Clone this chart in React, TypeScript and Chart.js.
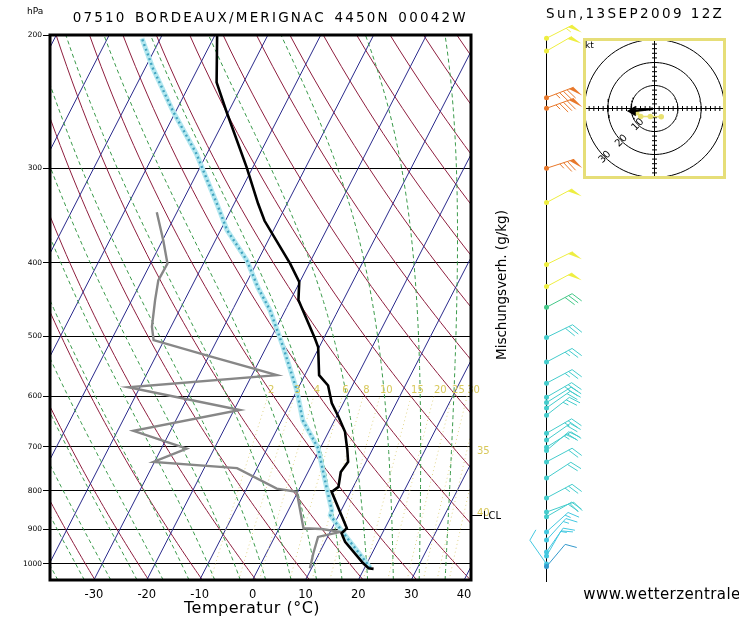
import React, { useEffect, useRef } from 'react';
import { Chart, registerables } from 'chart.js';

Chart.register(...registerables);

// ---------------- axis definitions ----------------
const PB = 1050; // bottom pressure (hPa)
const PT = 200; // top pressure (hPa)
const SKEW = 31.9; // degC shift per ln(p) unit
const X_MIN = -38.3;
const X_MAX = 41.3;

const pressureTicks = [200, 300, 400, 500, 600, 700, 800, 900, 1000];
const tempTicks = [-30, -20, -10, 0, 10, 20, 30, 40];

// ---------------- sounding data ----------------
const tempP = [1015, 1013, 998, 935, 911, 897, 803, 791, 756, 733, 707, 669, 639, 613, 581, 563, 517, 504, 448, 424, 401, 352, 334, 299, 252, 231, 200];
const tempT = [21.8, 20.8, 19.3, 13.8, 12.3, 12.8, 6.4, 7.2, 6.2, 6.6, 5.3, 3.1, 0.4, -2.2, -4.6, -7.3, -10.2, -11.6, -18.5, -20.1, -23.6, -32.6, -35.5, -41.2, -50.5, -55.1, -59.6];

const dewP = [1013, 968, 921, 907, 899, 897, 803, 795, 747, 733, 704, 667, 626, 584, 563, 530, 506, 486, 448, 422, 401, 374, 343];
const dewT = [9.7, 8.9, 8.2, 11.9, 8.1, 4.6, -0.2, -4.3, -13.8, -30.2, -25.2, -37.0, -18.9, -42.2, -15.3, -30.5, -42.0, -43.6, -45.6, -46.9, -46.8, -49.8, -53.8];

const parcelP = [1012, 1003, 910, 862, 849, 775, 703, 646, 589, 517, 462, 431, 397, 362, 334, 287, 252, 221, 202];
const parcelT = [21.1, 20.4, 12.6, 8.4, 8.2, 4.0, -0.4, -6.0, -10.1, -16.8, -22.9, -27.4, -32.1, -38.8, -43.3, -52.0, -60.6, -68.6, -73.5];

const lclP = 862;

// mixing ratio lines (g/kg)
const mixRatios = [2, 3, 4, 6, 8, 10, 15, 20, 25, 30, 35, 40];
const mixTopLabels = [2, 3, 4, 6, 8, 10, 15, 20, 25, 30];
const mixSideLabels = [35, 40];
const mixSideLabelP = [708, 855];
const MIX_TOP_P = 600;

// winds
const windP = [202, 210, 242, 250, 300, 333, 402, 430, 458, 502, 541, 577, 602, 612, 622, 636, 672, 686, 701, 708, 733, 770, 818, 854, 866, 907, 930, 964, 976, 1000, 1008];
const windDir = [63, 60, 69, 70, 72, 62, 64, 62, 62, 64, 62, 62, 60, 58, 55, 52, 60, 55, 58, 50, 62, 57, 62, 70, 60, 48, 42, 35, 30, 325, 40];
const windSpd = [55, 50, 85, 85, 75, 50, 50, 50, 30, 28, 27, 26, 25, 22, 22, 24, 25, 22, 24, 20, 22, 22, 24, 22, 20, 17, 15, 14, 12, 10, 8];

// hodograph (kt)
const hodoRings = [10, 20, 30];
const hodoU = [-7.6, -5.9, -1.8, 2.9];
const hodoV = [-1.8, -3.5, -3.5, -3.6];
const motionU = [-0.6, -9.3];
const motionV = [-0.1, -1.1];

// ---------------- colours ----------------
const ISO_COLOR = '#2a2a8c';
const DRY_COLOR = '#8e1e3e';
const MOIST_COLOR = '#3a9a4a';
const MIX_COLOR = '#e0d488';
const MIX_LABEL_COLOR = '#d8c85a';

// ---------------- helpers ----------------
const sx = (T: number, p: number) => T + SKEW * Math.log(PB / p);
const toPts = (Ts: number[], Ps: number[]) => Ps.map((p, i) => ({ x: sx(Ts[i], p), y: p }));

const P_LEVELS: number[] = [];
for (let p = PB; p >= PT; p -= 10) P_LEVELS.push(p);

function moistLapse(T: number, p: number) {
  const Tc = T - 273.15;
  const es = 6.112 * Math.exp((17.67 * Tc) / (Tc + 243.5));
  const rs = (0.622 * es) / (p - es);
  const Lv = 2.501e6;
  const num = 287.04 * T + Lv * rs;
  const den = 1005.7 + (Lv * Lv * rs * 0.622) / (287.04 * T * T);
  return num / (den * p);
}

function moistCurve(twC: number) {
  const res = new Map<number, number>();
  let T = twC + 273.15;
  let p = 1000;
  res.set(1000, T);
  while (p > PT) {
    T -= moistLapse(T, p - 1) * 2;
    p -= 2;
    if (p % 10 === 0) res.set(p, T);
  }
  T = twC + 273.15;
  p = 1000;
  while (p < PB) {
    T += moistLapse(T, p + 1) * 2;
    p += 2;
    if (p % 10 === 0) res.set(p, T);
  }
  return P_LEVELS.map((pp) => ({ x: sx((res.get(pp) as number) - 273.15, pp), y: pp }));
}

function tdFromMix(w: number, p: number) {
  const e = (w * p) / (622 + w);
  const l = Math.log(e / 6.112);
  return (243.5 * l) / (17.67 - l);
}

function line(data: any[], color: string, width: number, dash: number[] = [], order = 10) {
  return {
    data,
    borderColor: color,
    backgroundColor: color,
    borderWidth: width,
    borderDash: dash,
    pointRadius: 0,
    pointHoverRadius: 0,
    showLine: true,
    fill: false,
    tension: 0,
    order,
  };
}

function buildBackground() {
  const out: any[] = [];
  for (let t = -100; t <= 40; t += 10) {
    out.push(line([{ x: sx(t, PB), y: PB }, { x: sx(t, PT), y: PT }], ISO_COLOR, 1, [], 12));
  }
  for (let th = 230; th <= 460; th += 10) {
    out.push(line(P_LEVELS.map((p) => ({ x: sx(th * Math.pow(p / 1000, 0.2857) - 273.15, p), y: p })), DRY_COLOR, 1, [], 12));
  }
  for (let tw = -40; tw <= 45; tw += 5) {
    out.push(line(moistCurve(tw), MOIST_COLOR, 1, [4, 3], 11));
  }
  mixRatios.forEach((w) => {
    const ps = P_LEVELS.filter((p) => p >= MIX_TOP_P);
    out.push(line(ps.map((p) => ({ x: sx(tdFromMix(w, p), p), y: p })), MIX_COLOR, 1, [1, 3], 11));
  });
  return out;
}

function speedColor(s: number) {
  if (s >= 60) return '#e8782a';
  if (s >= 40) return '#eeee40';
  if (s >= 30) return '#44c888';
  if (s >= 20) return '#44cccc';
  if (s >= 10) return '#44c8e0';
  return '#3399cc';
}

function drawBarb(ctx: CanvasRenderingContext2D, x0: number, y0: number, dir: number, spd: number) {
  const color = speedColor(spd);
  const rad = (dir * Math.PI) / 180;
  const ux = Math.sin(rad);
  const uy = -Math.cos(rad);
  const L = 29;
  const th = (65 * Math.PI) / 180;
  const bx = ux * Math.cos(th) - uy * Math.sin(th);
  const by = ux * Math.sin(th) + uy * Math.cos(th);
  const BL = 12;
  ctx.strokeStyle = color;
  ctx.fillStyle = color;
  ctx.lineWidth = 1;
  ctx.beginPath();
  ctx.moveTo(x0, y0);
  ctx.lineTo(x0 + ux * L, y0 + uy * L);
  ctx.stroke();
  let s = Math.round(spd / 5) * 5;
  let pos = L;
  while (s >= 50) {
    const px = x0 + ux * pos, py = y0 + uy * pos;
    ctx.beginPath();
    ctx.moveTo(px, py);
    ctx.lineTo(px + bx * BL, py + by * BL);
    ctx.lineTo(x0 + ux * (pos - 5), y0 + uy * (pos - 5));
    ctx.closePath();
    ctx.fill();
    pos -= 7;
    s -= 50;
  }
  while (s >= 10) {
    const px = x0 + ux * pos, py = y0 + uy * pos;
    ctx.beginPath();
    ctx.moveTo(px, py);
    ctx.lineTo(px + bx * BL, py + by * BL);
    ctx.stroke();
    pos -= 4;
    s -= 10;
  }
  if (s >= 5) {
    if (pos === L) pos -= 4;
    const px = x0 + ux * pos, py = y0 + uy * pos;
    ctx.beginPath();
    ctx.moveTo(px, py);
    ctx.lineTo(px + bx * BL * 0.5, py + by * BL * 0.5);
    ctx.stroke();
  }
  ctx.beginPath();
  ctx.arc(x0, y0, 2.5, 0, Math.PI * 2);
  ctx.fill();
}

const skewExtras = {
  id: 'skewExtras',
  afterDatasetsDraw(chart: any) {
    const { ctx, chartArea: a, scales } = chart;
    const x = scales.x;
    const y = scales.y;
    ctx.save();
    // mixing ratio labels
    ctx.font = '10px "DejaVu Sans"';
    ctx.fillStyle = MIX_LABEL_COLOR;
    ctx.textAlign = 'left';
    ctx.textBaseline = 'alphabetic';
    mixTopLabels.forEach((w) => {
      const px = x.getPixelForValue(sx(tdFromMix(w, MIX_TOP_P), MIX_TOP_P));
      ctx.fillText(String(w), px, y.getPixelForValue(MIX_TOP_P) - 3);
    });
    mixSideLabels.forEach((w, i) => {
      ctx.fillText(String(w), a.right + 6, y.getPixelForValue(mixSideLabelP[i]) + 4);
    });
    // frame
    ctx.strokeStyle = '#000';
    ctx.lineWidth = 3;
    ctx.strokeRect(a.left, a.top, a.right - a.left, a.bottom - a.top);
    // LCL marker
    const yl = Math.round(y.getPixelForValue(lclP)) + 0.5;
    ctx.lineWidth = 1;
    ctx.beginPath();
    ctx.moveTo(a.right, yl);
    ctx.lineTo(a.right + 11, yl);
    ctx.stroke();
    ctx.fillStyle = '#000';
    ctx.font = '10px "DejaVu Sans"';
    ctx.textBaseline = 'middle';
    ctx.fillText('LCL', a.right + 12, yl + 1);
    // wind column
    const xc = a.right + 75.5;
    ctx.strokeStyle = '#000';
    ctx.lineWidth = 1;
    ctx.beginPath();
    ctx.moveTo(xc, a.top + 3);
    ctx.lineTo(xc, a.bottom + 2);
    ctx.stroke();
    windP.forEach((p, i) => drawBarb(ctx, xc, y.getPixelForValue(p), windDir[i], windSpd[i]));
    ctx.restore();
  },
};

function mainConfig(): any {
  const datasets = [
    line(toPts(tempT, tempP), '#000', 2.6, [], 0),
    line(toPts(dewT, dewP), '#878787', 2.4, [], 1),
    line(toPts(parcelT, parcelP), '#42a4c0', 2.4, [2, 3], 2),
    line(toPts(parcelT, parcelP), '#b4e8f0', 5, [], 3),
    ...buildBackground(),
  ];
  return {
    type: 'scatter',
    data: { datasets },
    plugins: [skewExtras],
    options: {
      animation: false,
      responsive: false,
      devicePixelRatio: 1,
      events: [],
      layout: { padding: { left: 0, right: 268, top: 35, bottom: 0 } },
      plugins: { legend: { display: false }, tooltip: { enabled: false }, title: { display: false } },
      scales: {
        x: {
          type: 'linear',
          min: X_MIN,
          max: X_MAX,
          position: 'bottom',
          afterBuildTicks: (s: any) => {
            s.ticks = tempTicks.map((v) => ({ value: v }));
          },
          afterFit: (s: any) => {
            s.height = 38;
          },
          grid: { display: false, drawTicks: false },
          border: { display: false },
          ticks: {
            color: '#000',
            font: { family: 'DejaVu Sans', size: 11.5 },
            padding: 8,
            maxRotation: 0,
            autoSkip: false,
            callback: (v: any) => String(v),
          },
        },
        y: {
          type: 'logarithmic',
          reverse: true,
          min: PT,
          max: PB,
          afterBuildTicks: (s: any) => {
            s.ticks = pressureTicks.map((v) => ({ value: v }));
          },
          afterFit: (s: any) => {
            s.width = 50;
          },
          grid: { color: '#000', lineWidth: 1, tickLength: 7, drawTicks: true },
          border: { display: false },
          ticks: {
            color: '#000',
            font: { family: 'DejaVu Sans', size: 7.5 },
            padding: 1,
            autoSkip: false,
            callback: (v: any) => String(v),
          },
        },
      },
    },
  };
}

const hodoExtras = {
  id: 'hodoExtras',
  afterDatasetsDraw(chart: any) {
    const { ctx, chartArea: a, scales } = chart;
    ctx.save();
    ctx.strokeStyle = '#e6de78';
    ctx.lineWidth = 3;
    ctx.strokeRect(a.left, a.top, a.right - a.left, a.bottom - a.top);
    ctx.fillStyle = '#000';
    ctx.font = '10px "DejaVu Sans"';
    ctx.textAlign = 'center';
    ctx.textBaseline = 'middle';
    hodoRings.forEach((r) => {
      const px = scales.x.getPixelForValue(-r * 0.7071);
      const py = scales.y.getPixelForValue(-r * 0.7071);
      ctx.save();
      ctx.translate(px, py);
      ctx.rotate(-Math.PI / 4);
      ctx.fillText(String(r), 0, 0);
      ctx.restore();
    });
    ctx.restore();
  },
};

function hodoConfig(): any {
  const ring = (r: number) => {
    const pts = [];
    for (let d = 0; d <= 360; d += 4) {
      const t = (d * Math.PI) / 180;
      pts.push({ x: r * Math.cos(t), y: r * Math.sin(t) });
    }
    return pts;
  };
  const tickVals: number[] = [];
  for (let v = -30; v <= 30; v += 2) tickVals.push(v);
  const datasets: any[] = [
    {
      data: motionU.map((u, i) => ({ x: u, y: motionV[i] })),
      borderColor: '#000',
      backgroundColor: '#000',
      borderWidth: 2.5,
      showLine: true,
      pointStyle: 'triangle',
      pointRadius: [0, 3.5],
      rotation: 270,
      order: 0,
    },
    {
      data: hodoU.map((u, i) => ({ x: u, y: hodoV[i] })),
      borderColor: '#e8e070',
      backgroundColor: '#e8e070',
      borderWidth: 1.5,
      showLine: true,
      pointRadius: 2,
      order: 1,
    },
    ...hodoRings.map((r) => ({ data: ring(r), borderColor: '#000', borderWidth: 1, showLine: true, pointRadius: 0, order: 5 })),
    { data: [{ x: -30, y: 0 }, { x: 30, y: 0 }], borderColor: '#000', borderWidth: 1, showLine: true, pointRadius: 0, order: 5 },
    { data: [{ x: 0, y: -30 }, { x: 0, y: 30 }], borderColor: '#000', borderWidth: 1, showLine: true, pointRadius: 0, order: 5 },
    { data: tickVals.map((u) => ({ x: u, y: 0 })), borderColor: '#000', borderWidth: 1, pointStyle: 'line', rotation: 90, pointRadius: 2.5, order: 5 },
    { data: tickVals.map((v) => ({ x: 0, y: v })), borderColor: '#000', borderWidth: 1, pointStyle: 'line', rotation: 0, pointRadius: 2.5, order: 5 },
  ];
  return {
    type: 'scatter',
    data: { datasets },
    plugins: [hodoExtras],
    options: {
      animation: false,
      responsive: false,
      devicePixelRatio: 1,
      events: [],
      layout: { padding: { left: 3, right: 3, top: 3, bottom: 3 } },
      plugins: { legend: { display: false }, tooltip: { enabled: false } },
      scales: {
        x: { type: 'linear', min: -30, max: 30, display: false },
        y: { type: 'linear', min: -30, max: 30, display: false },
      },
    },
  };
}

const txt = (left: number, top: number, size: number, text: string, extra: any = {}) => (
  <div
    style={{
      position: 'absolute',
      left,
      top,
      fontSize: size,
      lineHeight: 1,
      whiteSpace: 'nowrap',
      fontFamily: '"DejaVu Sans", sans-serif',
      color: '#000',
      ...extra,
    }}
  >
    {text}
  </div>
);

export default function App() {
  const mainRef = useRef<HTMLCanvasElement>(null);
  const hodoRef = useRef<HTMLCanvasElement>(null);
  useEffect(() => {
    const c1 = new Chart(mainRef.current as HTMLCanvasElement, mainConfig());
    const c2 = new Chart(hodoRef.current as HTMLCanvasElement, hodoConfig());
    return () => {
      c1.destroy();
      c2.destroy();
    };
  }, []);
  return (
    <div style={{ position: 'fixed', left: 0, top: 0, width: 739, height: 618, background: '#fff', overflow: 'hidden' }}>
      <canvas ref={mainRef} width={739} height={618} style={{ position: 'absolute', left: 0, top: 0 }} />
      <canvas ref={hodoRef} width={153} height={151} style={{ position: 'absolute', left: 578, top: 33 }} />
      {txt(27, 7.4, 9, 'hPa')}
      {txt(72.7, 11.3, 13.5, '07510 BORDEAUX/MERIGNAC 4450N 00042W', { letterSpacing: '2.2px', wordSpacing: '2px' })}
      {txt(546, 6.9, 13.5, 'Sun,13SEP2009 12Z', { letterSpacing: '2.4px' })}
      {txt(184, 599.5, 16, 'Temperatur (°C)', { letterSpacing: '0.5px' })}
      {txt(495.3, 360, 13.5, 'Mischungsverh. (g/kg)', { transformOrigin: 'left top', transform: 'rotate(-90deg)' })}
      {txt(583.3, 586.5, 15, 'www.wetterzentrale.de', { letterSpacing: '0.4px' })}
      {txt(585, 40.5, 9, 'kt')}
    </div>
  );
}
